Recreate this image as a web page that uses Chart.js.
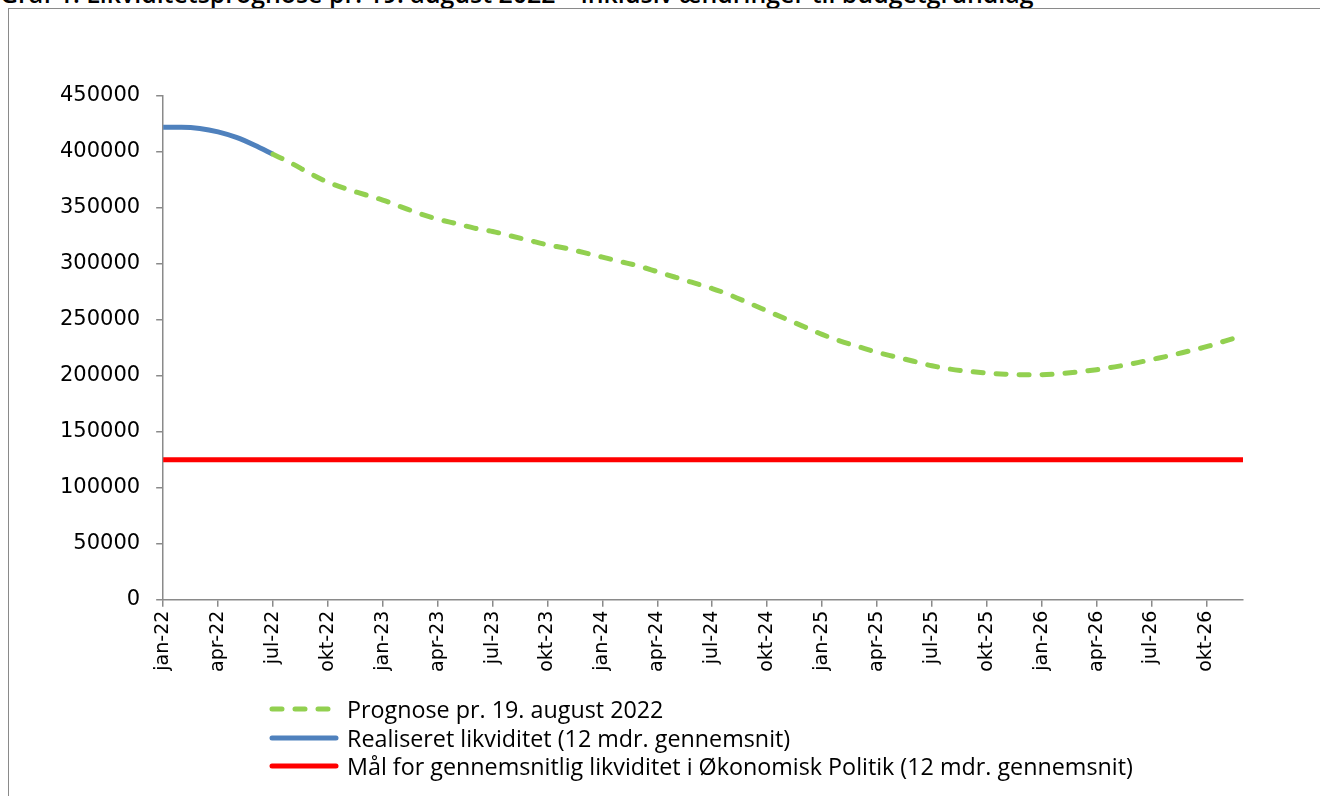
<!DOCTYPE html>
<html>
<head>
<meta charset="utf-8">
<script src="https://cdn.jsdelivr.net/npm/chart.js@4.4.1/dist/chart.umd.min.js"></script>
<style>
  html, body { margin: 0; padding: 0; background: #fff; overflow: hidden; }
  #title { position: absolute; left: 0; top: -19px; font: 600 24.9px/24px "Open Sans", sans-serif; color: #000; white-space: nowrap; }
  #frame { position: absolute; left: 8px; top: 8px; width: 1330px; height: 800px; border: 1.5px solid #8a8a8a; }
  #wrap { position: absolute; left: 0; top: 0; width: 1320px; height: 796px; }
  #legend { position: absolute; left: 268px; top: 695px; font: 23.3px "Open Sans", sans-serif; color: #000; }
  #legend div { height: 28.5px; display: flex; align-items: center; white-space: nowrap; }
  #legend svg { margin-right: 7px; }
</style>
</head>
<body>
<div id="title">Graf 1: Likviditetsprognose pr. 19. august 2022 – inklusiv ændringer til budgetgrundlag</div>
<div id="frame"></div>
<div id="wrap"><canvas id="chart" width="1320" height="796"></canvas></div>
<div id="legend"></div>
<script>
var months = ['jan', 'feb', 'mar', 'apr', 'maj', 'jun', 'jul', 'aug', 'sep', 'okt', 'nov', 'dec'];
var years = ['22', '23', '24', '25', '26'];

var labels = [];
for (let y = 0; y < years.length; y++) {
  for (let m = 0; m < months.length; m++) {
    labels.push(months[m] + '-' + years[y]);
  }
}

// realiseret, jan-22 .. jul-22
var realiseret = [422000, 422000, 421000, 418000, 413000, 406000, 398000];

// prognose, jul-22 .. dec-26
var prognose = [
  398000, 390000, 381000, 373000, 367000, 362000,
  357000, 351000, 345000, 340000, 336000, 332000,
  329000, 325000, 321000, 317000, 314000, 310000,
  306000, 302000, 298000, 293000, 288000, 283000,
  278000, 272000, 265000, 258000, 251000, 244000,
  237000, 231000, 226000, 221000, 217000, 213000,
  209000, 206000, 204000, 202500, 201500, 201000,
  201000, 202000, 203500, 205500, 208000, 211000,
  214500, 218000, 222000, 226000, 231000, 236000
];

var maalValue = 125000;

var yTicks = [0, 50000, 100000, 150000, 200000, 250000, 300000, 350000, 400000, 450000];

var prognoseData = [];
for (let i = 0; i < labels.length; i++) {
  prognoseData[i] = i < 6 ? null : prognose[i - 6];
}
var realiseretData = [];
for (let i = 0; i < labels.length; i++) {
  realiseretData[i] = i < realiseret.length ? realiseret[i] : null;
}
var maalData = [];
for (let i = 0; i < labels.length; i++) {
  maalData[i] = maalValue;
}

var dataPrognose = {
  label: 'Prognose pr. 19. august 2022',
  data: prognoseData,
  borderColor: '#92d050',
  borderWidth: 5,
  borderDash: [10, 13],
  borderCapStyle: 'round',
  cubicInterpolationMode: 'monotone',
  pointRadius: 0,
  fill: false
};
var dataRealiseret = {
  label: 'Realiseret likviditet (12 mdr. gennemsnit)',
  data: realiseretData,
  borderColor: '#4f81bd',
  borderWidth: 5,
  cubicInterpolationMode: 'monotone',
  pointRadius: 0,
  fill: false
};
var dataMaal = {
  label: 'Mål for gennemsnitlig likviditet i Økonomisk Politik (12 mdr. gennemsnit)',
  data: maalData,
  borderColor: '#ff0000',
  borderWidth: 5,
  pointRadius: 0,
  fill: false
};

var axisColor = '#8a8a8a';

var ctx = document.getElementById('chart').getContext('2d');
var myChart = new Chart(ctx, {
  type: 'line',
  data: {
    labels: labels,
    datasets: [dataPrognose, dataRealiseret, dataMaal]
  },
  options: {
    responsive: false,
    animation: false,
    layout: { padding: { left: 44, right: 77, top: 96, bottom: 120 } },
    plugins: { legend: { display: false }, tooltip: { enabled: false } },
    scales: {
      x: {
        offset: false,
        grid: { drawOnChartArea: false, color: axisColor, tickLength: 7, lineWidth: 1.5 },
        border: { color: axisColor, width: 1.5 },
        ticks: {
          autoSkip: false,
          maxRotation: 90,
          minRotation: 90,
          padding: 4,
          color: '#000',
          font: { family: 'DejaVu Sans', size: 19 },
          callback: function (val, i) { return i % 3 === 0 ? labels[i] : null; }
        }
      },
      y: {
        min: 0,
        max: 450000,
        afterBuildTicks: function (axis) { axis.ticks = yTicks.map(function (v) { return { value: v }; }); },
        grid: { drawOnChartArea: false, color: axisColor, tickLength: 7, lineWidth: 1.5 },
        border: { color: axisColor, width: 1.5 },
        ticks: {
          padding: 16,
          color: '#000',
          font: { family: 'DejaVu Sans', size: 21 },
          callback: function (v) { return String(v); }
        }
      }
    }
  }
});

// legend built from the datasets
var legend = document.getElementById('legend');
myChart.data.datasets.forEach(function (ds) {
  var row = document.createElement('div');
  var dash = ds.borderDash ? 'stroke-dasharray="10 13"' : '';
  row.innerHTML = '<svg width="72" height="10"><line x1="4" y1="5" x2="68" y2="5" stroke="' + ds.borderColor +
    '" stroke-width="5" stroke-linecap="round" ' + dash + '/></svg><span>' + ds.label + '</span>';
  legend.appendChild(row);
});
</script>
</body>
</html>
